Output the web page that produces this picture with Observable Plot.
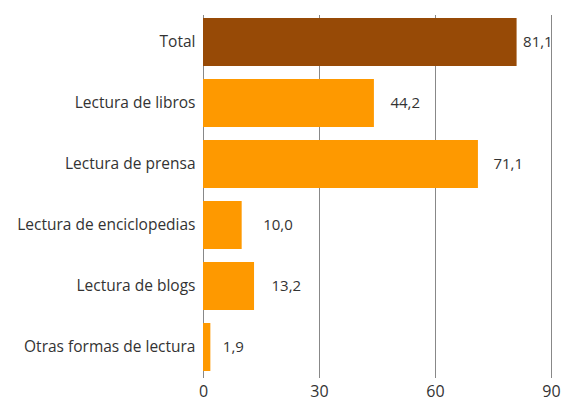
<!DOCTYPE html>
<html><head><meta charset="utf-8">
<script src="https://cdn.jsdelivr.net/npm/d3@7"></script>
<script src="https://cdn.jsdelivr.net/npm/@observablehq/plot@0.6"></script>
<style>body{margin:0;background:#fff;} svg{font-family:"Open Sans",Lato,sans-serif;}</style>
</head><body><div id="chart"></div>
<script>
const categories = ["Total","Lectura de libros","Lectura de prensa","Lectura de enciclopedias","Lectura de blogs","Otras formas de lectura"];
const values = [81.1, 44.2, 71.1, 10.0, 13.2, 1.9];
const xTicks = [0, 30, 60, 90];
const data = categories.map((c, i) => ({cat: c, val: values[i], total: i === 0}));
const fmt = v => v.toFixed(1).replace(".", ",");
const gap = [6, 16, 15, 21, 17, 12];
const chart = Plot.plot({
  width: 566, height: 401,
  marginLeft: 203, marginRight: 15, marginTop: 10, marginBottom: 23,
  style: {fontSize: "15px", color: "#333", background: "#fff"},
  x: {domain: [0, 90], ticks: xTicks, label: null},
  y: {domain: categories, label: null, paddingInner: 0.22, paddingOuter: 0.11},
  marks: [
    Plot.ruleX(xTicks, {stroke: "#888", strokeWidth: 1, insetTop: 5}),
    Plot.barX(data, {x: "val", y: "cat", fill: d => d.total ? "#974A06" : "#FE9900"}),
    ...data.map((d, i) => Plot.text([d], {x: "val", y: "cat", text: d => fmt(d.val), textAnchor: "start", dx: gap[i], fill: "#333", fontSize: 15})),
    Plot.axisX({ticks: xTicks, tickSize: 0, tickPadding: 7, fontSize: 16, label: null, fill: "#333"}),
    Plot.axisY({tickSize: 0, tickPadding: 8, fontSize: 15.5, label: null, fill: "#333"})
  ]
});
document.getElementById("chart").appendChild(chart);
</script></body></html>
